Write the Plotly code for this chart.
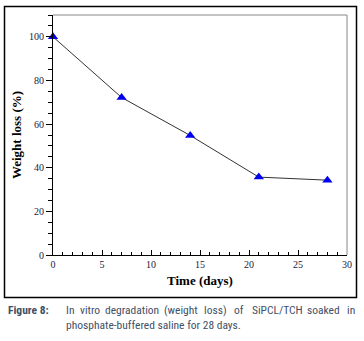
import plotly.graph_objects as go

days = [0, 7, 14, 21, 28]
weight_loss = [100, 72.2, 54.8, 35.7, 34.3]
x_ticks = [0, 5, 10, 15, 20, 25, 30]
y_ticks = [0, 20, 40, 60, 80, 100]

W, H = 364, 341
L, R, T, B = 53, 347, 15, 255

def px(xp):
    return (xp - L) / (R - L)

def py(yp):
    return (B - yp) / (B - T)

fig = go.Figure()
fig.add_trace(go.Scatter(
    x=days, y=weight_loss, mode="lines+markers",
    line=dict(color="#333333", width=1),
    marker=dict(symbol="triangle-up", size=9, color="#0000ee"),
    cliponaxis=False, showlegend=False,
))

serif = "Liberation Serif, Times New Roman, serif"
fig.update_layout(
    width=W, height=H,
    margin=dict(l=L, r=W - R, t=T, b=H - B, autoexpand=False),
    paper_bgcolor="white", plot_bgcolor="white",
    font=dict(family=serif, size=10, color="#1a1a3a"),
    xaxis=dict(
        range=[0, 30], tickvals=x_ticks, ticks="inside", ticklen=5,
        tickcolor="black", tickwidth=1, showgrid=False, zeroline=False,
        showline=True, linecolor="black", linewidth=1.2, automargin=False,
        minor=dict(dtick=1, ticks="inside", ticklen=3, tickcolor="black"),
        tickfont=dict(family=serif, size=10, color="#1a1a3a"),
        title=dict(text="<b>Time (days)</b>", font=dict(family=serif, size=13, color="black"), standoff=6),
    ),
    yaxis=dict(
        range=[0, 110], tickvals=y_ticks, ticks="outside", ticklen=6,
        tickcolor="black", tickwidth=1, showgrid=False, zeroline=False,
        showline=True, linecolor="black", linewidth=1.2, automargin=False,
        minor=dict(dtick=5, ticks="outside", ticklen=4, tickcolor="black"),
        tickfont=dict(family=serif, size=10, color="#1a1a3a"),
        title=dict(text="<b>Weight loss (%)</b>", font=dict(family=serif, size=13, color="black"), standoff=4),
    ),
    shapes=[
        dict(type="line", xref="paper", yref="paper", x0=0, x1=1, y0=1, y1=1,
             line=dict(color="#888888", width=1)),
        dict(type="line", xref="paper", yref="paper", x0=1, x1=1, y0=0, y1=1,
             line=dict(color="#888888", width=1)),
        dict(type="rect", xref="paper", yref="paper", x0=px(4.5), x1=px(356.5),
             y0=py(297.5), y1=py(6.5), line=dict(color="black", width=1.5)),
    ],
)

cap = "Liberation Sans Narrow, Arial Narrow, Roboto Condensed, sans-serif"
capcol = "#3f4f66"
capsize = 11.5
fig.add_annotation(xref="paper", yref="paper", x=px(6), y=py(310), xanchor="left", yanchor="middle",
                   text="<b>Figure 8:</b>", showarrow=False, font=dict(family=cap, size=capsize, color=capcol))

line1_words = ["In", "vitro", "degradation", "(weight", "loss)", "of", "SiPCL/TCH", "soaked", "in"]
line1_pos = [64, 90, 132, 181, 216, 239, 277, 323, 357]
line1_anchor = ["left"] + ["center"] * 7 + ["right"]
for w, s, a in zip(line1_words, line1_pos, line1_anchor):
    fig.add_annotation(xref="paper", yref="paper", x=px(s), y=py(310), xanchor=a, yanchor="middle",
                       text=w, showarrow=False, font=dict(family=cap, size=capsize, color=capcol))
fig.add_annotation(xref="paper", yref="paper", x=px(64), y=py(325), xanchor="left", yanchor="middle",
                   text="phosphate-buffered saline for 28 days.", showarrow=False,
                   font=dict(family=cap, size=capsize, color=capcol))

fig.write_html("out.html", config={"displayModeBar": False},
               post_script="document.body.style.margin='0';")
